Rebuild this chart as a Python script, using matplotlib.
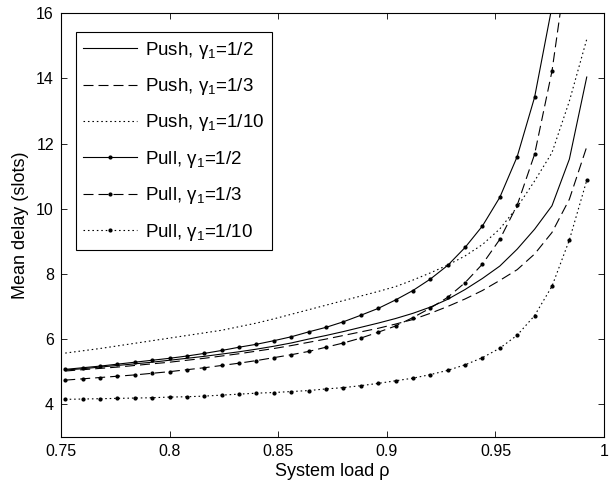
#!/usr/bin/env python3
"""
Mean delay vs system load for push / pull schemes
"""

import matplotlib
matplotlib.use('Agg')
import matplotlib.pyplot as plt

plt.rcParams['font.family'] = ['Liberation Sans', 'DejaVu Sans']
plt.rcParams['mathtext.default'] = 'regular'
plt.rcParams['mathtext.fontset'] = 'custom'
plt.rcParams['mathtext.rm'] = 'Liberation Sans'

# load grid (0.752 ... 0.992, step 0.008)
rho = [0.752, 0.760, 0.768, 0.776, 0.784, 0.792, 0.800, 0.808, 0.816, 0.824,
       0.832, 0.840, 0.848, 0.856, 0.864, 0.872, 0.880, 0.888, 0.896, 0.904,
       0.912, 0.920, 0.928, 0.936, 0.944, 0.952, 0.960, 0.968, 0.976, 0.984,
       0.992]

push_half = [5.05, 5.09, 5.14, 5.19, 5.24, 5.29, 5.35, 5.41, 5.47, 5.54,
             5.61, 5.69, 5.78, 5.88, 6.00, 6.11, 6.23, 6.36, 6.49, 6.63,
             6.79, 6.98, 7.22, 7.52, 7.86, 8.24, 8.76, 9.37, 10.09, 11.52,
             14.04]
push_third = [5.02, 5.06, 5.10, 5.14, 5.19, 5.24, 5.29, 5.35, 5.41, 5.48,
              5.55, 5.63, 5.71, 5.80, 5.90, 6.00, 6.11, 6.22, 6.33, 6.46,
              6.60, 6.79, 7.00, 7.23, 7.49, 7.80, 8.13, 8.61, 9.27, 10.29,
              11.90]
push_tenth = [5.57, 5.64, 5.71, 5.79, 5.87, 5.95, 6.03, 6.11, 6.19, 6.27,
              6.38, 6.49, 6.62, 6.76, 6.90, 7.04, 7.18, 7.32, 7.46, 7.61,
              7.81, 8.03, 8.27, 8.55, 8.90, 9.38, 10.05, 10.85, 11.72, 13.30,
              15.20]

# pull curves leave the plot before the last load values
pull_half = [5.07, 5.12, 5.17, 5.23, 5.29, 5.35, 5.41, 5.48, 5.56, 5.65,
             5.75, 5.84, 5.95, 6.07, 6.22, 6.36, 6.53, 6.73, 6.94, 7.20,
             7.49, 7.84, 8.26, 8.81, 9.47, 10.35, 11.60, 13.42, 16.20]
pull_third = [4.74, 4.78, 4.82, 4.86, 4.90, 4.95, 5.00, 5.06, 5.12, 5.19,
              5.26, 5.34, 5.43, 5.52, 5.62, 5.75, 5.88, 6.03, 6.21, 6.40,
              6.66, 6.95, 7.28, 7.73, 8.30, 9.06, 10.11, 11.67, 14.22, 18.00]
pull_tenth = [4.15, 4.16, 4.17, 4.18, 4.19, 4.20, 4.22, 4.23, 4.25, 4.28,
              4.31, 4.34, 4.36, 4.39, 4.42, 4.47, 4.51, 4.57, 4.64, 4.72,
              4.80, 4.91, 5.04, 5.21, 5.43, 5.72, 6.12, 6.72, 7.62, 9.04,
              10.87]

labels = [r'Push, $\gamma_1$=1/2', r'Push, $\gamma_1$=1/3', r'Push, $\gamma_1$=1/10',
          r'Pull, $\gamma_1$=1/2', r'Pull, $\gamma_1$=1/3', r'Pull, $\gamma_1$=1/10']

xticks = [0.75, 0.8, 0.85, 0.9, 0.95, 1.0]
xticklabels = ['0.75', '0.8', '0.85', '0.9', '0.95', '1']
yticks = [4, 6, 8, 10, 12, 14, 16]

fig = plt.figure(figsize=(6.09, 4.87), dpi=100)
ax = fig.add_axes([0.100, 0.103, 0.892, 0.870])

lw = 0.8
dash = (9, 4.5)
dot = (1.4, 2.6)
ms = 2.0

series = [
    (push_half, None, None),
    (push_third, dash, None),
    (push_tenth, dot, None),
    (pull_half, None, 'o'),
    (pull_third, dash, 'o'),
    (pull_tenth, dot, 'o'),
]

for (vals, dashes, marker), label in zip(series, labels):
    kw = dict(color='black', lw=lw, label=label)
    if marker:
        kw.update(marker=marker, markersize=ms, markerfacecolor='black',
                  markeredgecolor='black')
    line, = ax.plot(rho[:len(vals)], vals, **kw)
    if dashes:
        line.set_dashes(dashes)

ax.set_xlim(0.75, 1.0)
ax.set_ylim(3, 16)
ax.set_xticks(xticks)
ax.set_xticklabels(xticklabels)
ax.set_yticks(yticks)
ax.tick_params(direction='in', top=True, right=True, labelsize=11.5,
               length=4, width=0.6, pad=5)
for s in ax.spines.values():
    s.set_linewidth(0.8)

ax.set_xlabel('System load ρ', fontsize=13, labelpad=3)
ax.set_ylabel('Mean delay (slots)', fontsize=13, labelpad=5)

leg = ax.legend(loc='upper left', bbox_to_anchor=(0.027, 0.955),
                fontsize=13.5, frameon=True, fancybox=False,
                edgecolor='black', framealpha=1, handlelength=2.9,
                labelspacing=0.82, borderaxespad=0, handletextpad=0.4,
                borderpad=0.4)
leg.get_frame().set_linewidth(0.8)

plt.savefig('out.png', dpi=100)
plt.close()
